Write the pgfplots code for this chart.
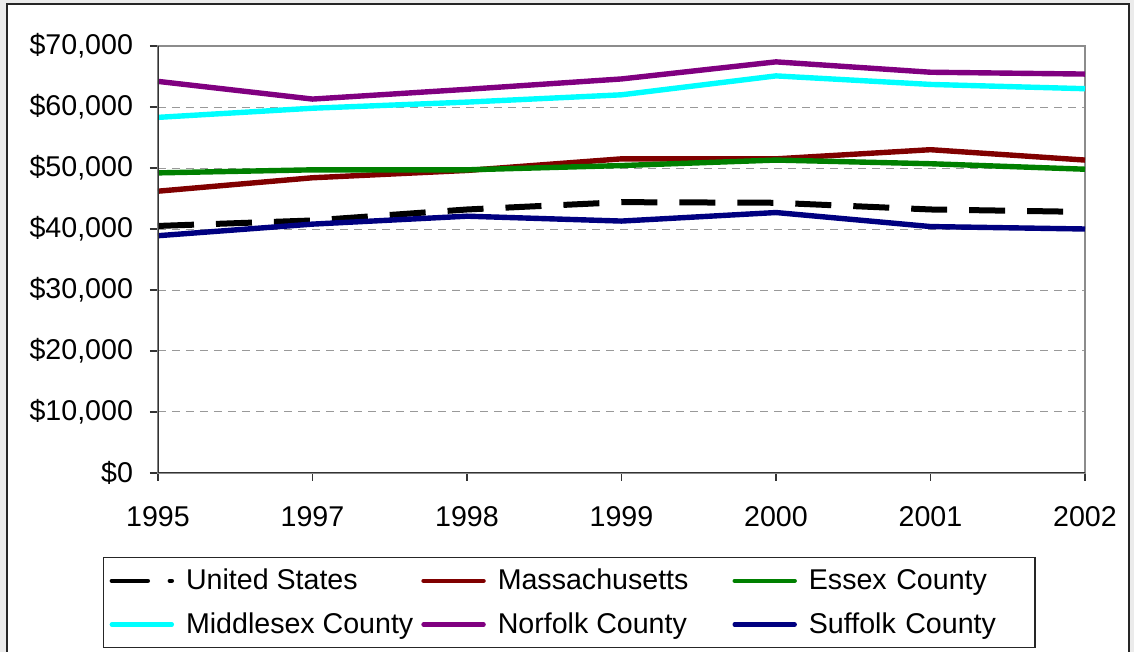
\documentclass[border=0pt]{standalone}
\usepackage{pgfplots}
\pgfplotsset{compat=1.18}
\usepackage{fontspec}
\setmainfont{Liberation Sans}
\definecolor{bgout}{RGB}{235,235,235}
\definecolor{cUS}{RGB}{0,0,0}
\definecolor{cMA}{RGB}{128,0,0}
\definecolor{cES}{RGB}{0,128,0}
\definecolor{cMI}{RGB}{0,255,255}
\definecolor{cNO}{RGB}{128,0,128}
\definecolor{cSU}{RGB}{0,0,128}
\newcommand{\fs}{\fontsize{14.3}{17}\selectfont}
\begin{document}
\begin{tikzpicture}
\useasboundingbox (-79pt,-89.5pt) rectangle (488pt,236.5pt);
\fill[bgout] (-79pt,-89.5pt) rectangle (488pt,236.5pt);
\filldraw[fill=white,draw=black!85,line width=1pt] (-75.5pt,-95pt) rectangle (485.5pt,234.5pt);
\begin{axis}[
  at={(0pt,0pt)}, anchor=origin,
  scale only axis,
  width=463.5pt, height=213.5pt,
  xmin=0, xmax=6, ymin=0, ymax=70000,
  scaled y ticks=false,
  xtick={0,1,2,3,4,5,6},
  xticklabels={1995,1997,1998,1999,2000,2001,2002},
  ytick={0,10000,20000,30000,40000,50000,60000,70000},
  yticklabels={{\$0},{\$10,000},{\$20,000},{\$30,000},{\$40,000},{\$50,000},{\$60,000},{\$70,000}},
  xtick pos=bottom, ytick pos=left,
  tick align=outside,
  major tick length=4pt,
  tick style={black!80, line width=0.7pt},
  axis line style={draw=black!45, line width=0.8pt},
  ymajorgrids,
  major grid style={black!40, dash pattern=on 4pt off 3pt, line width=0.5pt},
  tick label style={font=\fs},
  xticklabel style={yshift=-9pt},
  yticklabel style={xshift=-5pt},
  legend columns=3,
  legend cell align=left,
  legend style={
    at={(axis description cs:-0.0593,-0.197)}, anchor=north west,
    font=\fs, draw=black!85, line width=0.6pt,
    inner xsep=3pt, inner ysep=3.6pt, row sep=6pt,
    /tikz/column 1/.style={column sep=4pt},
    /tikz/column 2/.style={column sep=2pt},
    /tikz/column 3/.style={column sep=4pt},
    /tikz/column 4/.style={column sep=20pt},
    /tikz/column 5/.style={column sep=4pt},
    /tikz/column 6/.style={text width=108pt},
  },
  legend image code/.code={\draw[line cap=round,#1,line width=2.2pt] (0pt,0pt) -- (30pt,0pt);},
  every axis plot/.append style={line width=2.7pt, line join=round},
]
\addplot[cUS, line width=3pt, line cap=butt, dash pattern=on 18pt off 11pt] coordinates {(0,40500) (1,41400) (2,43200) (3,44400) (4,44300) (5,43200) (6,42800)};
\addlegendentry{United States}
\addplot[cMA] coordinates {(0,46200) (1,48400) (2,49600) (3,51500) (4,51500) (5,53000) (6,51300)};
\addlegendentry{Massachusetts}
\addplot[cES] coordinates {(0,49200) (1,49700) (2,49700) (3,50400) (4,51300) (5,50700) (6,49800)};
\addlegendentry{Essex County}
\addplot[cMI] coordinates {(0,58300) (1,59800) (2,60800) (3,62000) (4,65100) (5,63700) (6,63000)};
\addlegendentry{Middlesex County}
\addplot[cNO] coordinates {(0,64200) (1,61300) (2,62900) (3,64600) (4,67400) (5,65700) (6,65400)};
\addlegendentry{Norfolk County}
\addplot[cSU] coordinates {(0,38900) (1,40800) (2,42100) (3,41300) (4,42700) (5,40400) (6,40000)};
\addlegendentry{Suffolk County}
\draw[black!80, line width=0.8pt] (rel axis cs:0,1) -- (rel axis cs:0,0) -- (rel axis cs:1,0);
\end{axis}
\end{tikzpicture}
\end{document}
